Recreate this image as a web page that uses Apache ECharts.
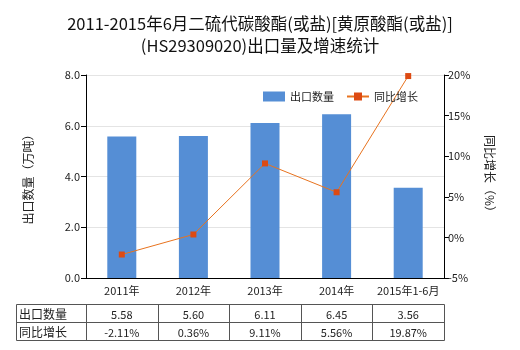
<!DOCTYPE html>
<html>
<head>
<meta charset="utf-8">
<script src="https://cdn.jsdelivr.net/npm/echarts@6/dist/echarts.min.js"></script>
<style>
html,body{margin:0;padding:0;background:#fff;}
#main{width:520px;height:350px;}
</style>
</head>
<body>
<div id="main"></div>
<script>
// Export volume (10k tonnes) and year-on-year growth (%)
const categories = ['2011年', '2012年', '2013年', '2014年', '2015年1-6月'];
const volume = [5.58, 5.60, 6.11, 6.45, 3.56];
const growth = [-2.11, 0.36, 9.11, 5.56, 19.87];
const volumeLabels = ['5.58', '5.60', '6.11', '6.45', '3.56'];
const growthLabels = ['-2.11%', '0.36%', '9.11%', '5.56%', '19.87%'];
const rowNames = ['出口数量', '同比增长'];

const FONT = '"Microsoft YaHei","Noto Sans CJK SC",sans-serif';
const gridLeft = 86, gridRight = 76, gridTop = 75, gridBottom = 72;
const plotW = 520 - gridLeft - gridRight;
const colW = plotW / categories.length;

// Data table under the x axis
const tableTop = 304, rowH = 18, tableLeft = 16;
const tableEls = [];
const stroke = { stroke: '#555', lineWidth: 1 };
tableEls.push({ type: 'rect', shape: { x: tableLeft + 0.5, y: tableTop + 0.5, width: gridLeft + plotW - tableLeft, height: rowH * 2 }, style: { fill: 'none', stroke: '#555', lineWidth: 1 } });
tableEls.push({ type: 'line', shape: { x1: tableLeft, y1: tableTop + rowH + 0.5, x2: gridLeft + plotW, y2: tableTop + rowH + 0.5 }, style: stroke });
for (let i = 0; i < categories.length; i++) {
  const x = Math.round(gridLeft + i * colW) + 0.5;
  tableEls.push({ type: 'line', shape: { x1: x, y1: tableTop, x2: x, y2: tableTop + rowH * 2 }, style: stroke });
}
const rows = [volumeLabels, growthLabels];
rows.forEach((vals, r) => {
  const cy = tableTop + rowH * r + rowH / 2 + 1;
  tableEls.push({ type: 'text', style: { text: rowNames[r], x: tableLeft + 3, y: cy, textVerticalAlign: 'middle', font: '12px ' + FONT, fill: '#222' } });
  vals.forEach((v, i) => {
    tableEls.push({ type: 'text', style: { text: v, x: gridLeft + (i + 0.5) * colW, y: cy + 1, textAlign: 'center', textVerticalAlign: 'middle', font: '11px ' + FONT, fill: '#222' } });
  });
});

const chart = echarts.init(document.getElementById('main'));
chart.setOption({
  animation: false,
  backgroundColor: '#fff',
  title: {
    text: '2011-2015年6月二硫代碳酸酯(或盐)[黄原酸酯(或盐)]\n(HS29309020)出口量及增速统计',
    left: 'center', top: 8,
    textStyle: { fontSize: 16.5, fontWeight: 'normal', color: '#111', fontFamily: FONT, lineHeight: 22 }
  },
  legend: {
    top: 86, left: 258, itemWidth: 22, itemHeight: 10, itemGap: 12,
    textStyle: { fontSize: 11, color: '#222', fontFamily: FONT },
    data: [{ name: '出口数量', icon: 'rect' }, { name: '同比增长' }]
  },
  grid: { left: gridLeft, right: gridRight, top: gridTop, bottom: gridBottom },
  xAxis: {
    type: 'category', data: categories,
    axisLine: { lineStyle: { color: '#000' } },
    axisTick: { show: false },
    axisLabel: { color: '#222', fontSize: 11, fontFamily: FONT, margin: 7, interval: 0 }
  },
  yAxis: [{
    type: 'value', min: 0, max: 8, interval: 2,
    name: '出口数量（万吨）', nameLocation: 'middle', nameGap: 52, nameRotate: 90,
    nameTextStyle: { fontSize: 12, color: '#222', fontFamily: FONT },
    axisLine: { show: true, lineStyle: { color: '#000' } },
    axisTick: { show: true, length: 5, lineStyle: { color: '#000' } },
    axisLabel: { color: '#222', fontSize: 11, fontFamily: FONT, formatter: v => v.toFixed(1), margin: 6 },
    splitLine: { lineStyle: { color: '#e4e4e4' } }
  }, {
    type: 'value', min: -5, max: 20, interval: 5,
    name: '同比增长（%）', nameLocation: 'middle', nameGap: 40, nameRotate: -90,
    nameTextStyle: { fontSize: 12, color: '#222', fontFamily: FONT },
    axisLine: { show: true, lineStyle: { color: '#000' } },
    axisTick: { show: true, length: 5, lineStyle: { color: '#000' } },
    axisLabel: { color: '#222', fontSize: 11, fontFamily: FONT, formatter: '{value}%', margin: 4 },
    splitLine: { show: false }
  }],
  series: [{
    name: '出口数量', type: 'bar', data: volume, barWidth: 29,
    itemStyle: { color: '#558ed5' }
  }, {
    name: '同比增长', type: 'line', yAxisIndex: 1, data: growth,
    symbol: 'rect', symbolSize: 6,
    lineStyle: { color: '#e8731f', width: 1 },
    itemStyle: { color: '#dd4a12' }
  }],
  graphic: tableEls
});
</script>
</body>
</html>
